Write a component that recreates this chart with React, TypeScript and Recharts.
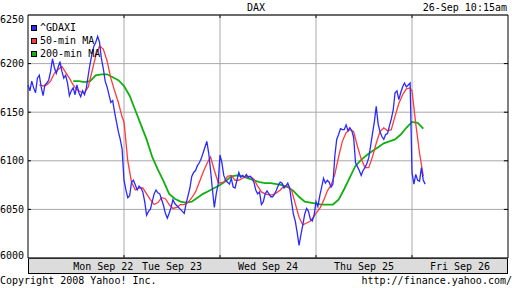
import React from 'react';
import { LineChart, Line, XAxis, YAxis, CartesianGrid, ReferenceLine, ReferenceArea } from 'recharts';

const MONO = '"DejaVu Sans Mono", monospace';
const DAY_MINUTES = 510; // 9:00 - 17:30

const dayLabels = ['Mon Sep 22', 'Tue Sep 23', 'Wed Sep 24', 'Thu Sep 25', 'Fri Sep 26'];
const dayLabelAt = [400, 765, 1275, 1785, 2295];
const dayBreaks = [510, 1020, 1530, 2040];
const priceTicks = [6000, 6050, 6100, 6150, 6200, 6250];

// ^GDAXI, one value every 10 minutes from the open
const gdaxiMon = [6178, 6172, 6182, 6175, 6170, 6185, 6188, 6176, 6167, 6178, 6180, 6183, 6192, 6205, 6196, 6190, 6196, 6202, 6192, 6185, 6188, 6180, 6167, 6172, 6175, 6168, 6178, 6170, 6166, 6172, 6168, 6175, 6188, 6200, 6210, 6218, 6222, 6228, 6222, 6205, 6195, 6182, 6176, 6168, 6160, 6162, 6150, 6140, 6130, 6122, 6112];
const gdaxiTue = [6080, 6070, 6062, 6064, 6078, 6080, 6075, 6070, 6074, 6072, 6068, 6058, 6044, 6048, 6050, 6058, 6066, 6070, 6067, 6066, 6060, 6054, 6046, 6041, 6046, 6052, 6060, 6056, 6054, 6052, 6050, 6048, 6046, 6056, 6064, 6072, 6084, 6088, 6090, 6095, 6098, 6102, 6108, 6114, 6120, 6108, 6090, 6070, 6052, 6066, 6076];
const gdaxiWed = [6106, 6098, 6085, 6080, 6078, 6076, 6082, 6073, 6072, 6080, 6088, 6083, 6085, 6083, 6086, 6083, 6084, 6082, 6078, 6070, 6066, 6068, 6055, 6058, 6066, 6069, 6066, 6063, 6063, 6066, 6070, 6075, 6078, 6077, 6072, 6074, 6077, 6072, 6058, 6045, 6038, 6026, 6013, 6024, 6034, 6045, 6051, 6048, 6040, 6038, 6044];
const gdaxiThu = [6058, 6053, 6064, 6073, 6082, 6077, 6080, 6078, 6073, 6076, 6105, 6122, 6127, 6133, 6132, 6132, 6137, 6131, 6134, 6131, 6124, 6098, 6094, 6090, 6085, 6090, 6093, 6097, 6103, 6115, 6128, 6140, 6156, 6138, 6130, 6125, 6122, 6127, 6128, 6136, 6143, 6152, 6170, 6172, 6163, 6170, 6176, 6180, 6176, 6178, 6180];
const gdaxiFri = [6088, 6076, 6086, 6080, 6079, 6093, 6080, 6076];

// 50-min MA, one value every 20 minutes
const ma50Mon = [null, null, null, 6178, 6177, 6178, 6182, 6190, 6194, 6197, 6191, 6185, 6178, 6173, 6171, 6170, 6176, 6192, 6208, 6218, 6215, 6203, 6185, 6172, 6160, 6145];
const ma50Tue = [6140, 6100, 6078, 6070, 6072, 6072, 6066, 6060, 6055, 6057, 6062, 6061, 6055, 6051, 6052, 6055, 6055, 6057, 6062, 6068, 6078, 6088, 6097, 6104, 6090, 6078];
const ma50Wed = [6077, 6078, 6084, 6085, 6080, 6080, 6082, 6084, 6084, 6081, 6074, 6068, 6066, 6065, 6065, 6067, 6070, 6074, 6074, 6070, 6056, 6042, 6034, 6036, 6038, 6043];
const ma50Thu = [6046, 6051, 6059, 6069, 6075, 6086, 6104, 6120, 6129, 6132, 6130, 6115, 6102, 6093, 6093, 6104, 6118, 6130, 6134, 6131, 6132, 6146, 6159, 6168, 6174, 6175];
const ma50Fri = [6172, 6138, 6108, 6084];

// 200-min MA, one value every 30 minutes
const ma200Mon = [null, null, null, null, null, null, null, null, 6182, 6182, 6181, 6182, 6188, 6189, 6189, 6186, 6183];
const ma200Tue = [6177, 6167, 6152, 6137, 6122, 6104, 6091, 6079, 6066, 6061, 6058, 6057, 6058, 6062, 6066, 6069, 6072];
const ma200Wed = [6075, 6079, 6084, 6085, 6084, 6082, 6080, 6078, 6077, 6077, 6076, 6075, 6073, 6069, 6063, 6058, 6057];
const ma200Thu = [6056, 6055, 6055, 6055, 6060, 6071, 6083, 6095, 6101, 6106, 6110, 6114, 6118, 6120, 6122, 6127, 6134];
const ma200Fri = [6140, 6139, 6133];

const gdaxi = [gdaxiMon, gdaxiTue, gdaxiWed, gdaxiThu, gdaxiFri];
const ma50 = [ma50Mon, ma50Tue, ma50Wed, ma50Thu, ma50Fri];
const ma200 = [ma200Mon, ma200Tue, ma200Wed, ma200Thu, ma200Fri];

const data: { t: number; price: number; ma50?: number | null; ma200?: number | null }[] = [];
gdaxi.forEach((vals, d) => {
  vals.forEach((v, i) => {
    const m = i * 10;
    data.push({
      t: d * DAY_MINUTES + m,
      price: v,
      ma50: m % 20 === 0 ? ma50[d][m / 20] ?? null : null,
      ma200: m % 30 === 0 ? ma200[d][m / 30] ?? null : null,
    });
  });
});

const BLUE = '#2a2aff';
const RED = '#ff3a3a';
const GREEN = '#10b010';
const GRID = '#a8a8a8';

const series = [
  { key: 'price', name: '^GDAXI', color: BLUE },
  { key: 'ma50', name: '50-min MA', color: RED },
  { key: 'ma200', name: '200-min MA', color: GREEN },
];

const DayTick = (props: any) => {
  const { x, payload } = props;
  const label = dayLabels[dayLabelAt.indexOf(payload.value)];
  return (
    <text x={x} y={270} textAnchor="middle" fontFamily={MONO} fontSize={10} fill="#000">
      {label}
    </text>
  );
};

const PriceTick = (props: any) => {
  const { y, payload } = props;
  // the top and bottom labels are nudged inside, as in the original
  const shift = payload.value === 6250 ? 4 : payload.value === 6000 ? -3 : 0;
  return (
    <text x={24} y={y + shift + 3.5} textAnchor="end" fontFamily={MONO} fontSize={10} fill="#000">
      {payload.value}
    </text>
  );
};

const textStyle: React.CSSProperties = {
  position: 'absolute',
  fontFamily: MONO,
  fontSize: 10,
  lineHeight: '10px',
  color: '#000',
  whiteSpace: 'pre',
};

export default function App() {
  return (
    <div style={{ position: 'absolute', left: 0, top: 0, width: 512, height: 288, background: '#fff', overflow: 'hidden' }}>
      <div style={{ position: 'absolute', left: 28, top: 258, width: 480, height: 16, background: '#dcdcdc', border: '1px solid #000', boxSizing: 'border-box' }} />
      <div style={{ position: 'absolute', left: 0, top: 0 }}>
        <LineChart width={512} height={288} data={data} margin={{ top: 15, right: 4, bottom: 0, left: 0 }}>
          <CartesianGrid vertical={false} stroke={GRID} />
          <XAxis
            dataKey="t"
            type="number"
            domain={[0, 5 * DAY_MINUTES]}
            ticks={dayLabelAt}
            tick={<DayTick />}
            tickLine={false}
            axisLine={false}
            height={30}
            interval={0}
          />
          <YAxis
            domain={[6000, 6250]}
            ticks={priceTicks}
            tick={<PriceTick />}
            tickLine={false}
            axisLine={false}
            width={28}
            interval={0}
          />
          {dayBreaks.map((b) => (
            <ReferenceLine key={b} x={b} stroke={GRID} />
          ))}
          {dayBreaks.map((b) => (
            <ReferenceLine key={'tt' + b} segment={[{ x: b, y: 6250 }, { x: b, y: 6247 }]} stroke="#000" />
          ))}
          {dayBreaks.map((b) => (
            <ReferenceLine key={'bt' + b} segment={[{ x: b, y: 6000 }, { x: b, y: 6003 }]} stroke="#000" />
          ))}
          {priceTicks.slice(1, -1).map((v) => (
            <ReferenceLine key={'l' + v} segment={[{ x: 0, y: v }, { x: 16, y: v }]} stroke="#000" />
          ))}
          {priceTicks.slice(1, -1).map((v) => (
            <ReferenceLine key={'r' + v} segment={[{ x: 5 * DAY_MINUTES - 22, y: v }, { x: 5 * DAY_MINUTES, y: v }]} stroke="#000" />
          ))}
          <Line dataKey="ma200" name="200-min MA" stroke={GREEN} strokeWidth={1.8} dot={false} activeDot={false} connectNulls isAnimationActive={false} />
          <Line dataKey="ma50" name="50-min MA" stroke={RED} strokeWidth={1.3} dot={false} activeDot={false} connectNulls isAnimationActive={false} />
          <Line dataKey="price" name="^GDAXI" stroke={BLUE} strokeWidth={1.3} dot={false} activeDot={false} isAnimationActive={false} />
          <ReferenceArea x1={0} x2={5 * DAY_MINUTES} y1={6000} y2={6250} fill="none" stroke="#000" strokeWidth={1} />
        </LineChart>
      </div>
      <div style={{ position: 'absolute', left: 31, top: 21, fontFamily: MONO, fontSize: 10, color: '#000' }}>
        {series.map((s) => (
          <div key={s.key} style={{ display: 'flex', alignItems: 'center', height: 13, lineHeight: '13px' }}>
            <span style={{ width: 6, height: 6, background: s.color, border: '1px solid #000', boxSizing: 'border-box', marginRight: 3 }} />
            <span>{s.name}</span>
          </div>
        ))}
      </div>
      <div style={{ ...textStyle, left: 0, width: 512, top: 3, textAlign: 'center' }}>DAX</div>
      <div style={{ ...textStyle, right: 5, top: 3 }}>26-Sep 10:15am</div>
      <div style={{ ...textStyle, left: 0, top: 276 }}>Copyright 2008 Yahoo! Inc.</div>
      <div style={{ ...textStyle, right: 0, top: 276 }}>http://finance.yahoo.com/</div>
    </div>
  );
}
